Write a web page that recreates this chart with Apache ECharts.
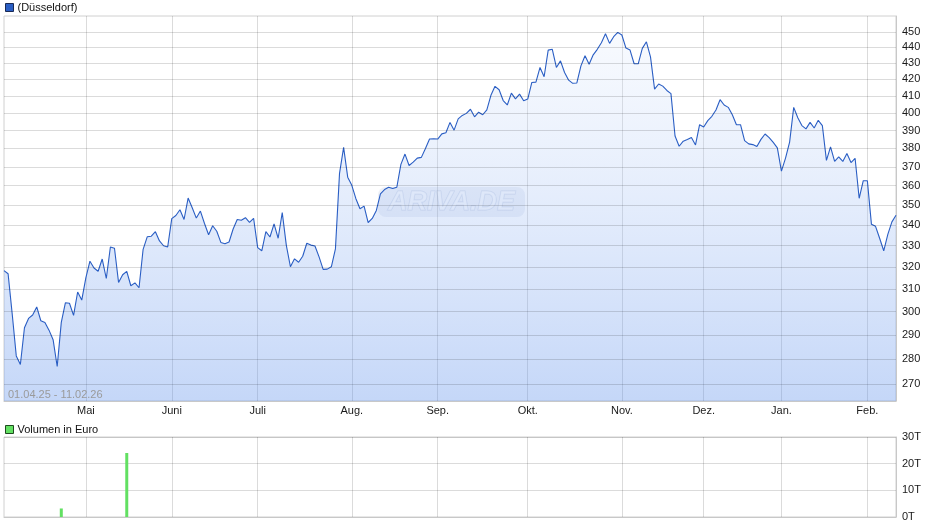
<!DOCTYPE html>
<html>
<head>
<meta charset="utf-8">
<script src="https://cdn.jsdelivr.net/npm/echarts@6/dist/echarts.min.js"></script>
<style>
html,body{margin:0;padding:0;background:#fff;}
#chart{width:940px;height:526px;}
</style>
</head>
<body>
<div id="chart"></div>
<script>
// ---- data ----
const startDate = '2025-04-01';
const endDate = '2026-02-11';
const holidays = ['2025-04-18','2025-04-21','2025-05-01','2025-12-24','2025-12-25','2025-12-26','2025-12-31','2026-01-01'];
const monthNames = {1:'Jan.',2:'Feb.',3:'März',4:'April',5:'Mai',6:'Juni',7:'Juli',8:'Aug.',9:'Sep.',10:'Okt.',11:'Nov.',12:'Dez.'};
const yTicks = [270,280,290,300,310,320,330,340,350,360,370,380,390,400,410,420,430,440,450];
const volTicks = [0,10,20,30];
const prices = [
318.3,316.9,299,281.3,277.8,293,297,298.5,302,296,
295.3,292,288,277,295.3,303.8,303.6,298.3,308.6,305,
315,322.7,319.5,318,323.7,314.7,329.4,328.8,312.9,316.4,
318,311.4,312.7,310.5,328.3,334.3,334.6,336.8,332.3,330,
329.4,343.2,344.8,347.7,342.8,353.6,348.7,343.5,347,340.8,
335.3,339.7,337,331.6,331,331.8,338.1,342.8,342.4,343.7,
341.4,343.4,329.1,327.6,336.8,334.2,340.6,333.6,346.3,330.2,
320.1,323.8,322.2,325,331.2,330.3,329.9,324.7,318.9,319,
320.1,328.5,366.5,380.6,364.5,360.2,353.3,348.2,349.5,341.3,
343.3,347.3,355.8,358,359.2,358.5,359.2,371.3,376.9,370.7,
372.5,374.7,375.1,380,385.2,385.4,385.2,388.1,388.7,394.6,
390.2,396.6,398.6,399.8,402.2,397.8,400.5,399,401.8,410.4,
415.8,413.7,407.3,404.7,411.7,408.3,411.1,407.2,408.2,418.1,
418.3,427.3,421.6,438.2,438.7,427.3,431.4,424.2,419.5,417.6,
417.8,428.3,434.6,429.3,435.2,438.7,442.9,448.7,442.5,446.8,
449.6,447.9,439.5,438.2,429.6,429.6,439.3,443.5,433.9,414.1,
417.2,415.9,413.3,411.4,386.9,381.2,384,385,386.1,381.9,
393.3,392,395.6,398.1,401.8,407.8,404.7,403.3,399,393.3,
393.3,384.3,382.5,382.1,381,385,388,386,383.3,380.3,
367.7,374.7,383.5,403.3,397.3,392.8,390.9,394.6,391.4,395.8,
392.8,373.5,380.8,372.9,375.3,372.9,377.2,372.3,374.6,353.5,
362.6,362.6,340.4,339.4,333.6,327.6,335.5,341.6,344.9
];
const volDates = ['2025-04-23','2025-05-16'];
const volValues = [3.2, 24];

// ---- build trading-day categories ----
function fmt(d){
  const m = String(d.getUTCMonth()+1).padStart(2,'0');
  const dd = String(d.getUTCDate()).padStart(2,'0');
  return d.getUTCFullYear()+'-'+m+'-'+dd;
}
const dates = [];
(function(){
  const d = new Date(startDate+'T00:00:00Z');
  const e = new Date(endDate+'T00:00:00Z');
  while (d <= e) {
    const wd = d.getUTCDay();
    const s = fmt(d);
    if (wd !== 0 && wd !== 6 && holidays.indexOf(s) < 0) dates.push(s);
    d.setUTCDate(d.getUTCDate()+1);
  }
})();
const monthStart = {};
for (let i = 1; i < dates.length; i++) {
  if (dates[i].slice(5,7) !== dates[i-1].slice(5,7)) monthStart[i] = true;
}
const isMonthStart = (idx) => !!monthStart[idx];
const volumes = dates.map(d => { const k = volDates.indexOf(d); return k >= 0 ? volValues[k] : null; });

const FONT = '"Liberation Sans", Arial, sans-serif';
const GRID = 'rgba(0,0,0,0.14)';

const chart = echarts.init(document.getElementById('chart'), null, {renderer:'canvas'});
chart.setOption({
  animation: false,
  backgroundColor: '#fff',
  textStyle: {fontFamily: FONT},
  legend: [
    {data:['(Düsseldorf)'], left:5, top:2, padding:0, itemWidth:8, itemHeight:8, icon:'rect',
     itemStyle:{borderColor:'#1a2a55', borderWidth:1},
     textStyle:{fontSize:11, color:'#111', fontFamily:FONT, padding:[0,0,0,-1]}},
    {data:['Volumen in Euro'], left:5, top:424, padding:0, itemWidth:8, itemHeight:8, icon:'rect',
     itemStyle:{borderColor:'#1f4a1f', borderWidth:1},
     textStyle:{fontSize:11, color:'#111', fontFamily:FONT, padding:[0,0,0,-1]}}
  ],
  grid: [
    {left:4, right:44, top:16, bottom:125, show:true, borderColor:'#d0d0d0', borderWidth:1},
    {left:4, right:44, top:437, bottom:9, show:true, borderColor:'#d0d0d0', borderWidth:1}
  ],
  xAxis: [
    {type:'category', gridIndex:0, data:dates, boundaryGap:false,
     axisLine:{show:true, lineStyle:{color:'#c8c8c8'}},
     axisTick:{show:false},
     axisLabel:{interval:(i)=>isMonthStart(i), formatter:(v)=>monthNames[+v.slice(5,7)],
       fontSize:11, color:'#1a1a1a', fontFamily:FONT, margin:4},
     splitLine:{show:true, interval:(i)=>isMonthStart(i), lineStyle:{color:GRID, width:1}}},
    {type:'category', gridIndex:1, data:dates, boundaryGap:false,
     axisLine:{show:true, lineStyle:{color:'#c8c8c8'}},
     axisTick:{show:false}, axisLabel:{show:false},
     splitLine:{show:true, interval:(i)=>isMonthStart(i), lineStyle:{color:GRID, width:1}}}
  ],
  yAxis: [
    {type:'log', logBase:10, gridIndex:0, position:'right', min:263.5, max:460.4,
     axisLine:{show:true, lineStyle:{color:'#c8c8c8'}},
     axisTick:{show:false, customValues:yTicks},
     axisLabel:{customValues:yTicks, fontSize:11, color:'#1a1a1a', fontFamily:FONT, margin:6},
     splitLine:{show:false}},
    {type:'value', gridIndex:1, position:'right', min:0, max:30, interval:10,
     axisLine:{show:true, lineStyle:{color:'#c8c8c8'}},
     axisTick:{show:false},
     axisLabel:{formatter:'{value}T', fontSize:11, color:'#1a1a1a', fontFamily:FONT, margin:6},
     splitLine:{show:true, lineStyle:{color:GRID}}}
  ],
  series: [
    {name:'(Düsseldorf)', type:'line', xAxisIndex:0, yAxisIndex:0, data:prices,
     symbol:'none', smooth:false, color:'#2a5ec4',
     lineStyle:{color:'#2a5ec4', width:1.1},
     areaStyle:{color:new echarts.graphic.LinearGradient(0,0,0,1,[
       {offset:0, color:'rgba(225,235,252,0.35)'},
       {offset:1, color:'rgba(95,145,236,0.52)'}])},
     markLine:{silent:true, symbol:['none','none'], label:{show:false},
       lineStyle:{color:GRID, type:'solid', width:1},
       data: yTicks.map(v => ({yAxis:v}))},
     z:3},
    {name:'Volumen in Euro', type:'bar', xAxisIndex:1, yAxisIndex:1, data:volumes,
     barWidth:3, color:'#62e062', itemStyle:{color:'#62e062'}}
  ],
  graphic: [
    {type:'group', left:378, top:187, z:10, silent:true, children:[
      {type:'rect', shape:{x:0, y:0, width:147, height:30, r:8},
       style:{fill:'rgba(140,160,205,0.16)'}},
      {type:'text', x:10, y:2, style:{text:'ARIVA.DE', font:'italic bold 27px "Liberation Sans", Arial, sans-serif',
       fill:'rgba(255,255,255,0.45)', stroke:'rgba(160,178,212,0.4)', lineWidth:1}}
    ]},
    {type:'text', left:8, top:389, z:10, silent:true,
     style:{text:'01.04.25 - 11.02.26', font:'11px "Liberation Sans", Arial, sans-serif', fill:'#9a9a9a'}}
  ]
});
</script>
</body>
</html>
